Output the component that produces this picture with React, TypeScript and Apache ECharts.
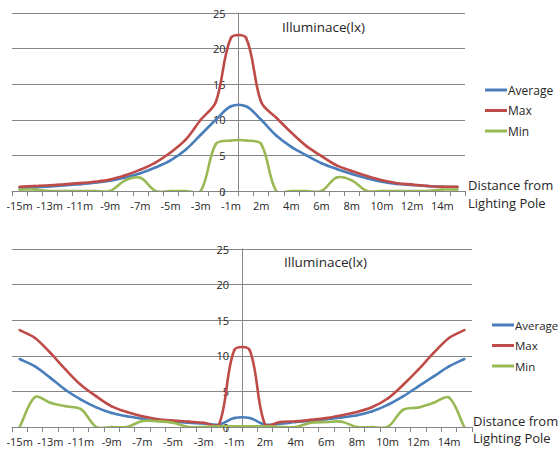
import React, { useEffect, useRef } from "react";
import * as echarts from "echarts";

const distances = [
  "-15m", "-14m", "-13m", "-12m", "-11m", "-10m", "-9m", "-8m", "-7m", "-6m",
  "-5m", "-4m", "-3m", "-2m", "-1m", "1m", "2m", "3m", "4m", "5m",
  "6m", "7m", "8m", "9m", "10m", "11m", "12m", "13m", "14m", "15m",
];

const seriesNames = ["Average", "Max", "Min"];

const topAverage = [0.45, 0.55, 0.65, 0.8, 0.95, 1.15, 1.45, 1.9, 2.5, 3.3, 4.3, 5.8, 7.9, 10.0, 11.9, 11.9, 10.0, 7.8, 6.2, 5.0, 3.9, 3.1, 2.4, 1.8, 1.3, 1.0, 0.85, 0.7, 0.6, 0.55];
const topMax = [0.6, 0.7, 0.8, 0.95, 1.1, 1.3, 1.6, 2.2, 3.0, 4.0, 5.4, 7.2, 10.0, 12.5, 21.5, 21.5, 12.5, 10.3, 8.2, 6.3, 4.9, 3.6, 2.8, 2.1, 1.5, 1.1, 0.9, 0.7, 0.6, 0.6];
const topMin = [0.2, 0.2, 0, 0, 0, 0, 0, 1.5, 1.85, 0, 0, 0, 0, 6.6, 7.1, 7.1, 6.6, 0, 0, 0, 0, 1.9, 1.5, 0, 0, 0, 0, 0, 0.2, 0.2];

const bottomAverage = [9.55, 8.5, 6.9, 5.2, 3.85, 2.75, 1.95, 1.5, 1.15, 0.9, 0.75, 0.6, 0.5, 0.35, 1.25, 1.25, 0.35, 0.45, 0.7, 0.85, 1.1, 1.35, 1.65, 2.2, 3.1, 4.3, 5.7, 7.1, 8.5, 9.55];
const bottomMax = [13.6, 12.5, 10.4, 8.05, 5.9, 4.3, 2.9, 2.1, 1.5, 1.1, 0.9, 0.75, 0.6, 0.35, 10.8, 10.8, 0.35, 0.7, 0.8, 1.0, 1.25, 1.65, 2.1, 2.8, 4.0, 5.9, 8.05, 10.4, 12.5, 13.6];
const bottomMin = [0, 4.2, 3.4, 2.9, 2.5, 0, 0, 0, 0.85, 0.8, 0.6, 0, 0, 0.1, 0.1, 0.1, 0.1, 0, 0, 0.6, 0.7, 0.75, 0, 0, 0, 2.4, 2.75, 3.4, 4.15, 0];

const yMin = 0;
const yMax = 25;
const yInterval = 5;

const colors = ["#4A7EBB", "#BE4B48", "#98B954"];
const gridColor = "#868686";
const textColor = "#262626";
const font = '"Open Sans", "DejaVu Sans", sans-serif';

// Excel-like smoothed line: cardinal spline with chord-length scaled tangents,
// drawn segment by segment through the axis scales (api.coord).
function smoothLine(name: string, values: number[], colorIdx: number, gi: number) {
  const color = colors[colorIdx];
  return {
    type: "custom",
    name,
    coordinateSystem: "cartesian2d",
    xAxisIndex: gi,
    yAxisIndex: gi,
    clip: true,
    data: values.map((v, i) => [i, v]),
    encode: { x: 0, y: 1 },
    itemStyle: { color },
    renderItem: (params: any, api: any) => {
      const i = params.dataIndex;
      const n = values.length;
      if (i >= n - 1) return null;
      const P = (k: number) => {
        const kk = Math.max(0, Math.min(n - 1, k));
        return api.coord([kk, values[kk]]);
      };
      const p0 = P(i - 1), p1 = P(i), p2 = P(i + 1), p3 = P(i + 2);
      const dist = (a: number[], b: number[]) => Math.hypot(b[0] - a[0], b[1] - a[1]);
      const d0 = dist(p0, p1), d1 = dist(p1, p2), d2 = dist(p2, p3);
      const f1 = d0 + d1 > 0 ? d1 / (d0 + d1) / 3 : 0;
      const f2 = d1 + d2 > 0 ? d1 / (d1 + d2) / 3 : 0;
      return {
        type: "bezierCurve",
        shape: {
          x1: p1[0], y1: p1[1],
          cpx1: p1[0] + (p2[0] - p0[0]) * f1,
          cpy1: p1[1] + (p2[1] - p0[1]) * f1,
          cpx2: p2[0] - (p3[0] - p1[0]) * f2,
          cpy2: p2[1] - (p3[1] - p1[1]) * f2,
          x2: p2[0], y2: p2[1],
        },
        style: { stroke: color, lineWidth: 2.6, fill: null, lineCap: "round" },
        silent: true,
      };
    },
  };
}

export default function App() {
  const ref = useRef<HTMLDivElement>(null);

  useEffect(() => {
    if (!ref.current) return;
    const chart = echarts.init(ref.current, undefined, { renderer: "svg" });

    const grids = [
      { left: 12, top: 13, width: 453, height: 178 },
      { left: 12, top: 249, width: 460, height: 178 },
    ];

    const makeX = (gi: number) => ({
      type: "category",
      gridIndex: gi,
      data: distances,
      boundaryGap: true,
      axisLine: { show: true, lineStyle: { color: gridColor, width: 1 } },
      axisTick: { show: true, interval: 0, length: 5, lineStyle: { color: gridColor } },
      axisLabel: { interval: 1, color: textColor, fontSize: 11, fontFamily: font, margin: 9 },
      splitLine: { show: false },
    });

    const makeY = (gi: number, offset: number) => ({
      type: "value",
      gridIndex: gi,
      min: yMin,
      max: yMax,
      interval: yInterval,
      offset,
      axisLine: { show: true, lineStyle: { color: gridColor, width: 1 } },
      axisTick: { show: false },
      axisLabel: { color: textColor, fontSize: 11, fontFamily: font, margin: 13 },
      splitLine: { show: true, lineStyle: { color: gridColor, width: 1 } },
    });

    const legendBase = (fontSize: number) => ({
      data: seriesNames,
      orient: "vertical",
      icon: "rect",
      itemWidth: 22,
      itemHeight: 3,
      itemGap: 6.5,
      padding: 0,
      textStyle: { color: textColor, fontSize, fontFamily: font, lineHeight: 14, padding: [0, 0, 0, -4] },
      selectedMode: false,
    });

    const textEl = (text: string, x: number, y: number, size: number) => ({
      type: "text",
      x,
      y,
      style: { text, fontSize: size, fontFamily: font, fill: textColor, verticalAlign: "middle", align: "left" },
    });

    chart.setOption({
      animation: false,
      backgroundColor: "#ffffff",
      grid: grids,
      xAxis: [makeX(0), makeX(1)],
      yAxis: [makeY(0, -226.5), makeY(1, -230)],
      legend: [
        { ...legendBase(12), left: 485, top: 83 },
        { ...legendBase(11.5), left: 492, top: 318 },
      ],
      series: [
        smoothLine(seriesNames[0], topAverage, 0, 0),
        smoothLine(seriesNames[1], topMax, 1, 0),
        smoothLine(seriesNames[2], topMin, 2, 0),
        smoothLine(seriesNames[0], bottomAverage, 0, 1),
        smoothLine(seriesNames[1], bottomMax, 1, 1),
        smoothLine(seriesNames[2], bottomMin, 2, 1),
      ],
      graphic: [
        textEl("Illuminace(lx)", 282, 27, 13.5),
        textEl("Distance from", 468, 185, 13),
        textEl("Lighting Pole", 468, 203, 13),
        textEl("Illuminace(lx)", 284, 262, 13.5),
        textEl("Distance from", 473, 421, 13),
        textEl("Lighting Pole", 473, 438, 13),
      ],
    });

    return () => chart.dispose();
  }, []);

  return (
    <div
      ref={ref}
      style={{ position: "fixed", left: 0, top: 0, width: 560, height: 450, background: "#fff" }}
    />
  );
}
